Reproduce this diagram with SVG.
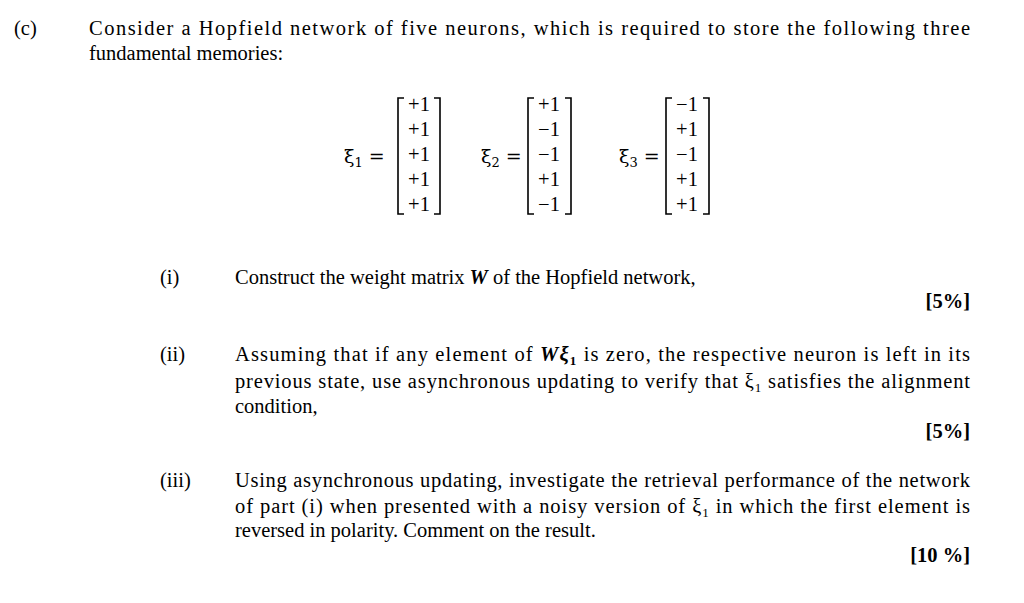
<svg xmlns="http://www.w3.org/2000/svg" width="1024" height="603" viewBox="0 0 1024 603">
<style>
text{font-family:"Liberation Serif","Times New Roman",serif;font-size:20.5px;fill:#000}
.m{font-family:"DejaVu Serif","Liberation Serif",serif;font-size:19px;text-anchor:middle}
.s{font-size:13px}
.b{font-weight:bold;text-anchor:end}
.br{fill:none;stroke:#000;stroke-width:1.6}
</style>
<rect width="1024" height="603" fill="#fff"/>
<text x="14" y="35">(c)</text>
<text x="89" y="35" textLength="881" lengthAdjust="spacing">Consider a Hopfield network of five neurons, which is required to store the following three</text>
<text x="89" y="60">fundamental memories:</text>
<g id="xi1">
<text x="344" y="163" style="font-family:'DejaVu Serif',serif;font-size:19px">ξ<tspan class="s" dy="4">1</tspan><tspan dy="-4" dx="6">=</tspan></text>
<path class="br" d="M404,98 h-6 v116 h6 M434,98 h6 v116 h-6"/>
<g class="m"><text x="419" y="111">+1</text><text x="419" y="136">+1</text><text x="419" y="161">+1</text><text x="419" y="186">+1</text><text x="419" y="211">+1</text></g>
</g>
<g id="xi2">
<text x="481" y="163" style="font-family:'DejaVu Serif',serif;font-size:19px">ξ<tspan class="s" dy="4">2</tspan><tspan dy="-4" dx="6">=</tspan></text>
<path class="br" d="M534,98 h-6 v116 h6 M565,98 h6 v116 h-6"/>
<g class="m"><text x="549" y="111">+1</text><text x="549" y="136">−1</text><text x="549" y="161">−1</text><text x="549" y="186">+1</text><text x="549" y="211">−1</text></g>
</g>
<g id="xi3">
<text x="619" y="163" style="font-family:'DejaVu Serif',serif;font-size:19px">ξ<tspan class="s" dy="4">3</tspan><tspan dy="-4" dx="6">=</tspan></text>
<path class="br" d="M672,98 h-6 v116 h6 M703,98 h6 v116 h-6"/>
<g class="m"><text x="687" y="111">−1</text><text x="687" y="136">+1</text><text x="687" y="161">−1</text><text x="687" y="186">+1</text><text x="687" y="211">+1</text></g>
</g>
<text x="160" y="284">(i)</text>
<text x="235" y="284">Construct the weight matrix <tspan font-weight="bold" font-style="italic">W</tspan> of the Hopfield network,</text>
<text class="b" x="970" y="308">[5%]</text>
<text x="160" y="361">(ii)</text>
<text x="235" y="361" textLength="735" lengthAdjust="spacing">Assuming that if any element of  <tspan font-weight="bold" font-style="italic">Wξ</tspan><tspan font-weight="bold" class="s" dy="4">1</tspan><tspan dy="-4"> is  zero, the respective neuron is left in  its</tspan></text>
<text x="235" y="388" textLength="735" lengthAdjust="spacing">previous state, use asynchronous updating to verify that ξ<tspan class="s" dy="4">1</tspan><tspan dy="-4"> satisfies the alignment</tspan></text>
<text x="235" y="413">condition,</text>
<text class="b" x="970" y="438">[5%]</text>
<text x="160" y="487">(iii)</text>
<text x="235" y="487" textLength="735" lengthAdjust="spacing">Using asynchronous updating, investigate the retrieval performance of the network</text>
<text x="235" y="513" textLength="735" lengthAdjust="spacing">of part (i) when presented with a noisy version of ξ<tspan class="s" dy="4">1</tspan><tspan dy="-4">  in which the first element is</tspan></text>
<text x="235" y="537">reversed in polarity. Comment on the result.</text>
<text class="b" x="970" y="562">[10 %]</text>
</svg>
